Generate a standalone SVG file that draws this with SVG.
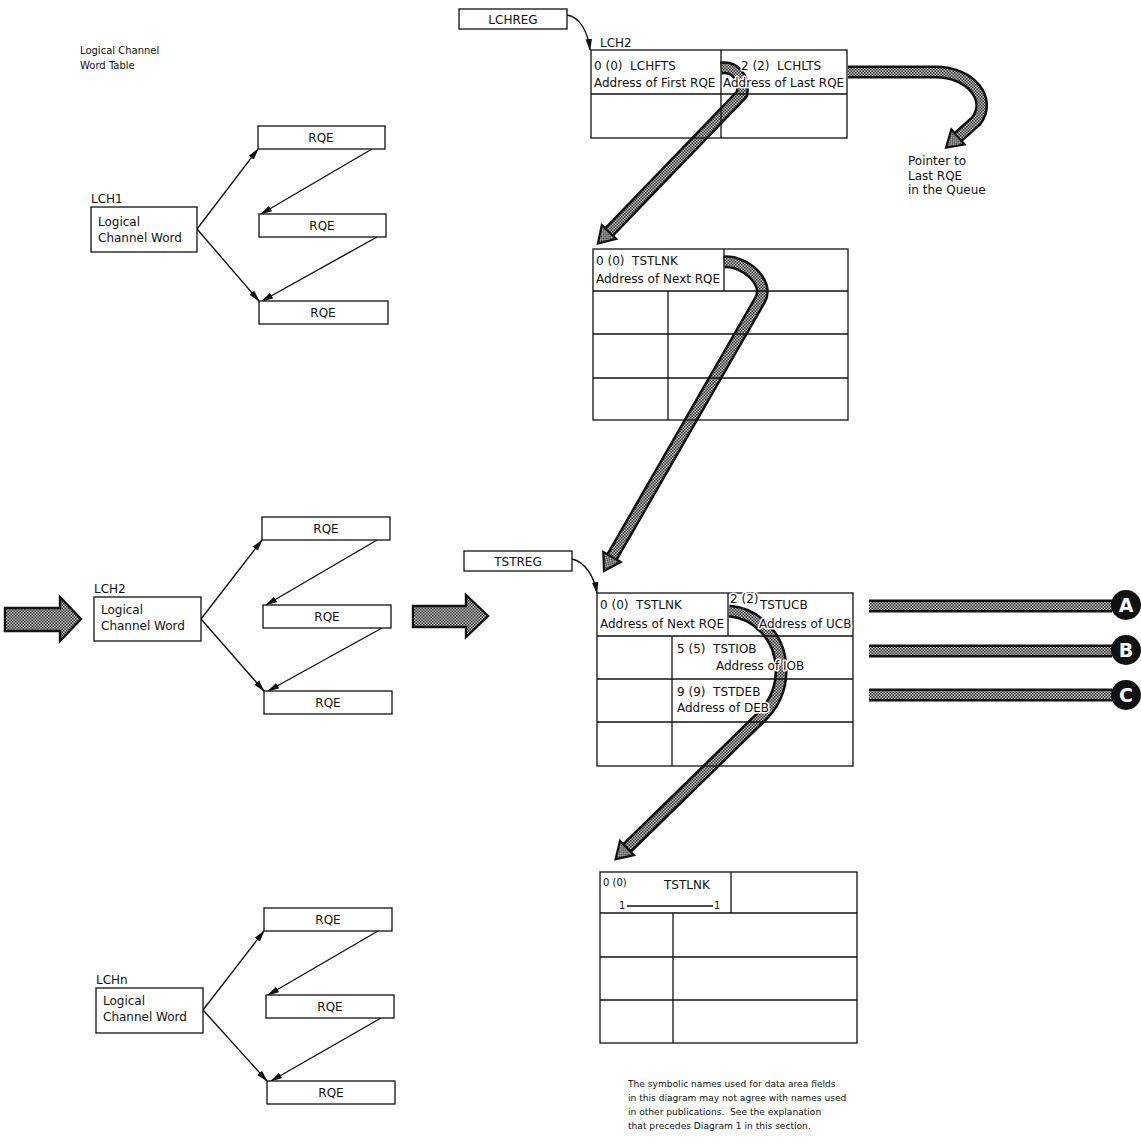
<svg xmlns="http://www.w3.org/2000/svg" width="1141" height="1147" viewBox="0 0 1141 1147">
<style>
.t{font-family:"DejaVu Sans","Liberation Sans",sans-serif;font-size:12px;fill:#111;white-space:pre}
.h{stroke:#fff;stroke-width:3px;stroke-linejoin:round;paint-order:stroke fill}
.s{font-size:10px}
.f{font-size:9.1px}
.c{text-anchor:middle}
.box{fill:#fff;stroke:#111;stroke-width:1.3}
.tb{fill:none;stroke:#111;stroke-width:1.3}
.ln{stroke:#111;stroke-width:1.3;fill:none}
.thin{stroke:#111;stroke-width:1.4;fill:none;marker-end:url(#ah)}
.bo{stroke:#111;stroke-width:13;fill:none;stroke-linejoin:round}
.bi{stroke:url(#hatch);stroke-width:8;fill:none;stroke-linejoin:round}
.bh{marker-end:url(#hah)}
.blk{fill:url(#hatch);stroke:#111;stroke-width:2.4;stroke-linejoin:miter}
.circ{fill:#111}
.cl{font-family:"DejaVu Sans","Liberation Sans",sans-serif;font-size:19px;font-weight:bold;fill:#fff;text-anchor:middle}
</style>
<defs>
<pattern id="hatch" width="3" height="3" patternUnits="userSpaceOnUse">
<rect width="3" height="3" fill="#c8c8c8"/>
<rect width="1.5" height="1.5" fill="#2a2a2a"/>
<rect x="1.5" y="1.5" width="1.5" height="1.5" fill="#2a2a2a"/>
</pattern>
<marker id="ah" markerUnits="userSpaceOnUse" markerWidth="12" markerHeight="8" viewBox="0 0 12 8" refX="11" refY="4" orient="auto">
<path d="M0,0.8 L12,4 L0,7.2 Z" fill="#111"/>
</marker>
<marker id="hah" markerUnits="userSpaceOnUse" markerWidth="22" markerHeight="26" viewBox="-2 -13 22 26" refX="0" refY="0" orient="auto">
<path d="M0,-10 L16,0 L0,10 Z" fill="url(#hatch)" stroke="#111" stroke-width="2.2"/>
</marker>
</defs>
<rect width="1141" height="1147" fill="#fff"/>

<g id="connectors">
<!-- LCH1 -->
<line class="thin" x1="197" y1="229" x2="258" y2="149"/>
<line class="thin" x1="197" y1="229" x2="259" y2="301"/>
<line class="thin" x1="372" y1="149" x2="261" y2="214"/>
<line class="thin" x1="377" y1="237" x2="262" y2="301"/>
<!-- LCH2 -->
<line class="thin" x1="201" y1="619" x2="262" y2="540"/>
<line class="thin" x1="201" y1="619" x2="264" y2="691"/>
<line class="thin" x1="377" y1="540" x2="266" y2="605"/>
<line class="thin" x1="382" y1="628" x2="268" y2="691"/>
<!-- LCHn -->
<line class="thin" x1="203" y1="1010" x2="264" y2="931"/>
<line class="thin" x1="203" y1="1010" x2="267" y2="1081"/>
<line class="thin" x1="378" y1="931" x2="268" y2="995"/>
<line class="thin" x1="381" y1="1018" x2="271" y2="1081"/>
<!-- registers -->
<path class="thin" d="M567,15 C580,17 588,32 590,50"/>
<path class="thin" d="M572,559 C585,562 594,576 597,593"/>
<!-- block arrows -->
<polygon class="blk" points="5,608 60,608 60,597 81,619 60,641 60,631 5,631"/>
<polygon class="blk" points="413,606 466,606 466,595 488,616 466,637 466,627 413,627"/>
<!-- LCHFTS pointer -->
<path class="bo" d="M721,68 C735,66 745,78 742,94 L609,232"/>
<path class="bi bh" d="M721,68 C735,66 745,78 742,94 L609,232"/>
<!-- LCHLTS pointer -->
<path class="bo" d="M848,72 L935,72 C972,72 992,100 976,121 L958,137"/>
<path class="bi bh" d="M848,72 L935,72 C972,72 992,100 976,121 L958,137"/>
<!-- TSTLNK table 1 -->
<path class="bo" d="M724,262 C745,260 770,283 760,300 L612,557"/>
<path class="bi bh" d="M724,262 C745,260 770,283 760,300 L612,557"/>
<!-- TSTLNK table 2 -->
<path class="bo" d="M729,611 C755,613 780,635 781,668 C782,690 772,708 757,721 L627,848"/>
<path class="bi bh" d="M729,611 C755,613 780,635 781,668 C782,690 772,708 757,721 L627,848"/>
<!-- A B C bands -->
<line class="bo" x1="869" y1="606" x2="1112" y2="606"/>
<line class="bi" x1="869" y1="606" x2="1112" y2="606"/>
<line class="bo" x1="869" y1="651" x2="1112" y2="651"/>
<line class="bi" x1="869" y1="651" x2="1112" y2="651"/>
<line class="bo" x1="869" y1="695" x2="1112" y2="695"/>
<line class="bi" x1="869" y1="695" x2="1112" y2="695"/>
</g>

<g id="title">
<text class="t s" x="80" y="54">Logical Channel</text>
<text class="t s" x="80" y="69">Word Table</text>
</g>

<!-- LCH1 group -->
<g id="lch1">
<text class="t" x="91" y="203">LCH1</text>
<rect class="box" x="91" y="207" width="106" height="45"/>
<text class="t" x="98" y="226">Logical</text>
<text class="t" x="98" y="242">Channel Word</text>
</g>
<g id="lch1-rqe1"><rect class="box" x="258" y="126" width="127" height="23"/><text class="t c" x="321" y="142">RQE</text></g>
<g id="lch1-rqe2"><rect class="box" x="259" y="214" width="127" height="23"/><text class="t c" x="322" y="230">RQE</text></g>
<g id="lch1-rqe3"><rect class="box" x="259" y="301" width="129" height="23"/><text class="t c" x="323" y="317">RQE</text></g>

<!-- LCH2 group -->
<g id="lch2">
<text class="t" x="94" y="593">LCH2</text>
<rect class="box" x="94" y="597" width="107" height="44"/>
<text class="t" x="101" y="614">Logical</text>
<text class="t" x="101" y="630">Channel Word</text>
</g>
<g id="lch2-rqe1"><rect class="box" x="262" y="517" width="128" height="23"/><text class="t c" x="326" y="533">RQE</text></g>
<g id="lch2-rqe2"><rect class="box" x="263" y="605" width="128" height="23"/><text class="t c" x="327" y="621">RQE</text></g>
<g id="lch2-rqe3"><rect class="box" x="264" y="691" width="128" height="23"/><text class="t c" x="328" y="707">RQE</text></g>

<!-- LCHn group -->
<g id="lchn">
<text class="t" x="96" y="984">LCHn</text>
<rect class="box" x="96" y="988" width="107" height="45"/>
<text class="t" x="103" y="1005">Logical</text>
<text class="t" x="103" y="1021">Channel Word</text>
</g>
<g id="lchn-rqe1"><rect class="box" x="264" y="908" width="128" height="23"/><text class="t c" x="328" y="924">RQE</text></g>
<g id="lchn-rqe2"><rect class="box" x="266" y="995" width="128" height="23"/><text class="t c" x="330" y="1011">RQE</text></g>
<g id="lchn-rqe3"><rect class="box" x="267" y="1081" width="128" height="23"/><text class="t c" x="331" y="1097">RQE</text></g>

<!-- registers -->
<g id="lchreg"><rect class="box" x="459" y="9" width="108" height="20"/><text class="t c" x="513" y="24">LCHREG</text></g>
<g id="tstreg"><rect class="box" x="464" y="551" width="108" height="20"/><text class="t c" x="518" y="566">TSTREG</text></g>

<!-- LCH2 table -->
<g id="lch2-table">
<text class="t" x="600" y="47">LCH2</text>
<rect class="tb" x="591" y="50" width="256" height="88"/>
<line class="ln" x1="591" y1="94" x2="847" y2="94"/>
<line class="ln" x1="721" y1="50" x2="721" y2="138"/>
<text class="t" x="594" y="70">0 (0)  LCHFTS</text>
<text class="t" x="594" y="87">Address of First RQE</text>
<text class="t h" x="741" y="70">2 (2)  LCHLTS</text>
<text class="t h" x="723" y="87">Address of Last RQE</text>
</g>

<g id="pointer-note">
<text class="t" x="908" y="165">Pointer to</text>
<text class="t" x="908" y="180">Last RQE</text>
<text class="t" x="908" y="194">in the Queue</text>
</g>

<!-- TST table 1 -->
<g id="tst-table-1">
<rect class="tb" x="593" y="249" width="255" height="171"/>
<line class="ln" x1="593" y1="291" x2="848" y2="291"/>
<line class="ln" x1="593" y1="334" x2="848" y2="334"/>
<line class="ln" x1="593" y1="378" x2="848" y2="378"/>
<line class="ln" x1="724" y1="249" x2="724" y2="291"/>
<line class="ln" x1="668" y1="291" x2="668" y2="420"/>
<text class="t" x="596" y="265">0 (0)  TSTLNK</text>
<text class="t" x="596" y="283">Address of Next RQE</text>
</g>

<!-- TST table 2 -->
<g id="tst-table-2">
<rect class="tb" x="597" y="593" width="256" height="173"/>
<line class="ln" x1="597" y1="636" x2="853" y2="636"/>
<line class="ln" x1="597" y1="679" x2="853" y2="679"/>
<line class="ln" x1="597" y1="722" x2="853" y2="722"/>
<line class="ln" x1="728" y1="593" x2="728" y2="636"/>
<line class="ln" x1="672" y1="636" x2="672" y2="766"/>
<text class="t" x="600" y="609">0 (0)  TSTLNK</text>
<text class="t" x="600" y="628">Address of Next RQE</text>
<text class="t h" x="730" y="603">2 (2)</text>
<text class="t h" x="760" y="609">TSTUCB</text>
<text class="t h" x="759" y="628">Address of UCB</text>
<text class="t h" x="677" y="653">5 (5)  TSTIOB</text>
<text class="t h" x="716" y="670">Address of IOB</text>
<text class="t h" x="677" y="696">9 (9)  TSTDEB</text>
<text class="t h" x="677" y="712">Address of DEB</text>
</g>

<!-- TST table 3 -->
<g id="tst-table-3">
<rect class="tb" x="600" y="872" width="257" height="171"/>
<line class="ln" x1="600" y1="913" x2="857" y2="913"/>
<line class="ln" x1="600" y1="957" x2="857" y2="957"/>
<line class="ln" x1="600" y1="1000" x2="857" y2="1000"/>
<line class="ln" x1="731" y1="872" x2="731" y2="913"/>
<line class="ln" x1="673" y1="913" x2="673" y2="1043"/>
<text class="t s" x="603" y="886">0 (0)</text>
<text class="t" x="664" y="889">TSTLNK</text>
<text class="t s" x="619" y="909">1</text>
<line class="ln" x1="627" y1="906" x2="713" y2="906"/>
<text class="t s" x="714" y="909">1</text>
</g>

<!-- circles -->
<g id="conn-a"><circle class="circ" cx="1126" cy="605" r="15"/><text class="cl" x="1126" y="612">A</text></g>
<g id="conn-b"><circle class="circ" cx="1126" cy="650" r="15"/><text class="cl" x="1126" y="657">B</text></g>
<g id="conn-c"><circle class="circ" cx="1126" cy="695" r="15"/><text class="cl" x="1126" y="702">C</text></g>

<g id="footnote">
<text class="t f" x="628" y="1087">The symbolic names used for data area fields</text>
<text class="t f" x="628" y="1101">in this diagram may not agree with names used</text>
<text class="t f" x="628" y="1115">in other publications.  See the explanation</text>
<text class="t f" x="628" y="1129">that precedes Diagram 1 in this section.</text>
</g>
</svg>
